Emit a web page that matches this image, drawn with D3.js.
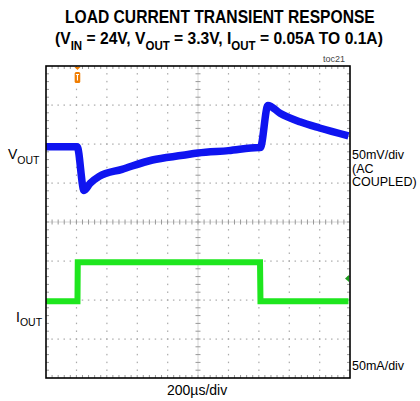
<!DOCTYPE html>
<html>

<head>
    <title>Load Current Transient Response</title>
    <script src="https://d3js.org/d3.v7.min.js"></script>
    <style>
        body { margin: 0; background: #fff; }
        text { font-family: "Liberation Sans", Arial, sans-serif; }
    </style>
</head>

<body>
    <script>
        // scope settings
        const timePerDiv = 200;      // us
        const voltsPerDiv = 50;      // mV
        const ampsPerDiv = 50;       // mA
        const vOutOffsetDiv = 1.93;  // channel 1 position (divisions from centre)
        const iOutZeroDiv = -3.03;   // channel 2 ground (divisions from centre)

        // VOUT (AC coupled), mV deviation vs time in us
        const vOutTime = [0, 205, 250, 290, 350, 500, 700, 900, 1000, 1200, 1400, 1410, 1460, 1540, 1670, 1800, 1990];
        const vOutMv   = [0, 0, -56, -47, -38, -29, -17, -11, -8, -5, -1, -1, 53, 43, 32, 24, 14];

        // IOUT, mA vs time in us
        const iOutTime = [0, 207, 209, 1408, 1411, 1990];
        const iOutMa   = [50, 50, 100, 100, 50, 50];

        const triggerTime = 207;
        const ch2MarkerMa = 79;

        const width = 420;
        const height = 401;
        const plotL = 46, plotR = 350, plotT = 66, plotB = 378;

        const svg = d3.select("body").append("svg")
            .attr("width", width)
            .attr("height", height);

        const x = d3.scaleLinear().domain([0, 10 * timePerDiv]).range([plotL, plotR]);
        const yDiv = d3.scaleLinear().domain([-4, 4]).range([plotB, plotT]);

        const grid = svg.append("g");
        const divW = (plotR - plotL) / 10;
        const divH = (plotB - plotT) / 8;

        // dotted graticule
        for (let i = 1; i < 10; i++) {
            if (i === 5) continue;
            grid.selectAll(null)
                .data(d3.range(1, 40))
                .enter().append("rect")
                .attr("x", x(i * timePerDiv) - 0.5)
                .attr("y", d => plotT + d * divH / 5 - 0.75)
                .attr("width", 1.2).attr("height", 1.5)
                .attr("fill", "#aaa");
        }
        for (let j = -3; j <= 3; j++) {
            if (j === 0) continue;
            grid.selectAll(null)
                .data(d3.range(1, 50))
                .enter().append("rect")
                .attr("x", d => plotL + d * divW / 5 - 0.75)
                .attr("y", yDiv(j) - 0.5)
                .attr("width", 1.5).attr("height", 1.2)
                .attr("fill", "#aaa");
        }

        // centre axes with minor ticks
        const cx = x(5 * timePerDiv), cy = yDiv(0);
        grid.append("line").attr("x1", plotL).attr("x2", plotR).attr("y1", cy).attr("y2", cy)
            .attr("stroke", "#ccc").attr("stroke-width", 0.8);
        grid.append("line").attr("x1", cx).attr("x2", cx).attr("y1", plotT).attr("y2", plotB)
            .attr("stroke", "#ccc").attr("stroke-width", 0.8);
        grid.selectAll(null)
            .data(d3.range(1, 50))
            .enter().append("line")
            .attr("x1", d => plotL + d * divW / 5).attr("x2", d => plotL + d * divW / 5)
            .attr("y1", cy - 2.5).attr("y2", cy + 2.5)
            .attr("stroke", "#999").attr("stroke-width", 1);
        grid.selectAll(null)
            .data(d3.range(1, 40))
            .enter().append("line")
            .attr("y1", d => plotT + d * divH / 5).attr("y2", d => plotT + d * divH / 5)
            .attr("x1", cx - 2.5).attr("x2", cx + 2.5)
            .attr("stroke", "#999").attr("stroke-width", 1);

        // ticks along the frame
        const hTicks = d3.range(1, 50).map(d => plotL + d * divW / 5);
        const vTicks = d3.range(1, 40).map(d => plotT + d * divH / 5);
        [[plotT, 3], [plotB, -3]].forEach(([yy, len]) => {
            grid.selectAll(null).data(hTicks).enter().append("line")
                .attr("x1", d => d).attr("x2", d => d)
                .attr("y1", yy).attr("y2", yy + len)
                .attr("stroke", "#999");
        });
        [[plotL, 3], [plotR, -3]].forEach(([xx, len]) => {
            grid.selectAll(null).data(vTicks).enter().append("line")
                .attr("y1", d => d).attr("y2", d => d)
                .attr("x1", xx).attr("x2", xx + len)
                .attr("stroke", "#999");
        });

        // traces
        const vLine = d3.line()
            .x((d, i) => x(vOutTime[i]))
            .y(d => yDiv(vOutOffsetDiv + d / voltsPerDiv))
            .curve(d3.curveMonotoneX);
        const iLine = d3.line()
            .x((d, i) => x(iOutTime[i]))
            .y(d => yDiv(iOutZeroDiv + d / ampsPerDiv));

        svg.append("path")
            .attr("d", iLine(iOutMa))
            .attr("fill", "none")
            .attr("stroke", "#1ee61e")
            .attr("stroke-width", 6);

        svg.append("path")
            .attr("d", vLine(vOutMv))
            .attr("fill", "none")
            .attr("stroke", "#0f14f0")
            .attr("stroke-width", 7.5)
            .attr("stroke-linejoin", "round");

        // trigger marker
        const tx = x(triggerTime);
        svg.append("path")
            .attr("d", `M${tx - 3},${plotT + 1}L${tx + 3},${plotT + 1}L${tx},${plotT + 4}Z`)
            .attr("fill", "#f07d00");
        svg.append("rect")
            .attr("x", tx - 2.8).attr("y", plotT + 6)
            .attr("width", 5.6).attr("height", 11).attr("rx", 1.5)
            .attr("fill", "#f07d00");
        svg.append("path")
            .attr("d", `M${tx - 1.6},${plotT + 8.5}H${tx + 1.6}M${tx},${plotT + 8.5}V${plotT + 14.5}`)
            .attr("stroke", "#fff").attr("stroke-width", 1.1);

        // channel 2 marker
        const my = yDiv(iOutZeroDiv + ch2MarkerMa / ampsPerDiv);
        svg.append("path")
            .attr("d", `M${plotR - 1},${my - 3.5}L${plotR - 5},${my}L${plotR - 1},${my + 3.5}Z`)
            .attr("fill", "#1f9f1f");

        // frame
        svg.append("rect")
            .attr("x", plotL).attr("y", plotT)
            .attr("width", plotR - plotL).attr("height", plotB - plotT)
            .attr("fill", "none")
            .attr("stroke", "#000")
            .attr("stroke-width", 1.6);

        // titles
        function fitWidth(sel, x0, x1) {
            const bb = sel.node().getBBox();
            const s = (x1 - x0) / bb.width;
            sel.attr("transform", `translate(${x0},0) scale(${s},1) translate(${-bb.x},0)`);
        }

        const t1 = svg.append("text")
            .attr("x", 0).attr("y", 23)
            .style("font-size", "17.5px").style("font-weight", "bold")
            .text("LOAD CURRENT TRANSIENT RESPONSE");
        fitWidth(t1, 65, 375);

        const t2 = svg.append("text")
            .attr("x", 0).attr("y", 44.5)
            .style("font-size", "17px").style("font-weight", "bold");
        const parts = [["(V", 0], ["IN", 1], [" = 24V, V", 0], ["OUT", 1], [" = 3.3V, I", 0], ["OUT", 1], [" = 0.05A  TO 0.1A)", 0]];
        parts.forEach(([s, sub]) => {
            t2.append("tspan")
                .attr("y", sub ? 50 : 44.5)
                .style("font-size", sub ? "12.5px" : "17px")
                .text(s);
        });
        fitWidth(t2, 55, 383);

        svg.append("text")
            .attr("x", 345).attr("y", 62)
            .attr("text-anchor", "end")
            .style("font-size", "9px").style("fill", "#444")
            .text("toc21");

        // channel labels
        const vl = svg.append("text").attr("x", 8).attr("y", 159).style("font-size", "14px");
        vl.append("tspan").text("V");
        vl.append("tspan").attr("y", 163.5).style("font-size", "10.5px").text("OUT");

        const il = svg.append("text").attr("x", 16).attr("y", 321.5).style("font-size", "14px");
        il.append("tspan").text("I");
        il.append("tspan").attr("y", 326).style("font-size", "10.5px").text("OUT");

        const scaleLabels = [["50mV/div", 352, 159.3], ["(AC", 352, 172.6], ["COUPLED)", 352, 185.9], ["50mA/div", 352, 370]];
        svg.selectAll(null)
            .data(scaleLabels)
            .enter().append("text")
            .attr("x", d => d[1]).attr("y", d => d[2])
            .style("font-size", "12.5px")
            .text(d => d[0]);

        svg.append("text")
            .attr("x", 167).attr("y", 394.5)
            .style("font-size", "14px")
            .text("200\u00b5s/div");
    </script>
</body>

</html>
